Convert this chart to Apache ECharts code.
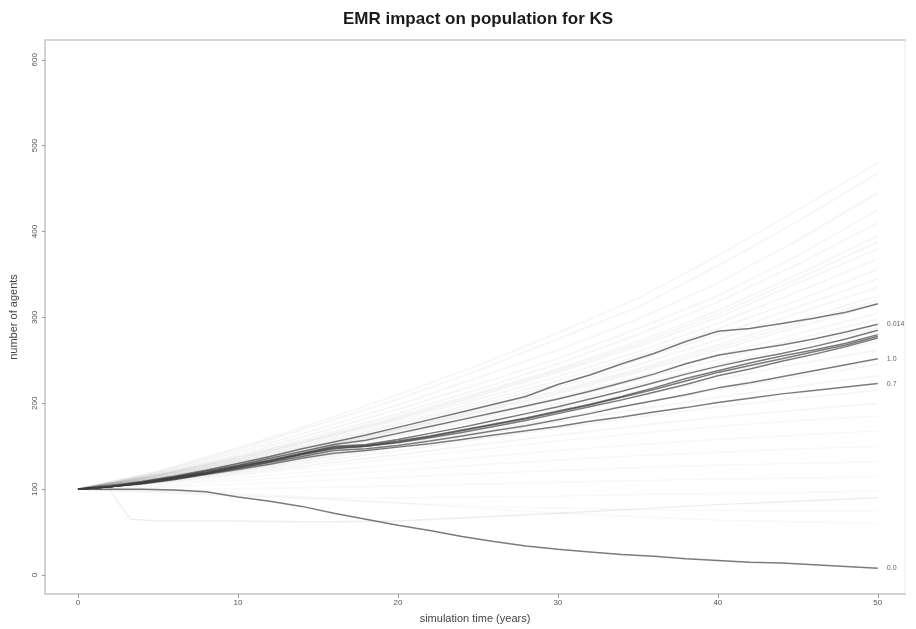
<!DOCTYPE html>
<html>
<head>
<meta charset="utf-8">
<script src="https://cdn.jsdelivr.net/npm/echarts@6/dist/echarts.min.js"></script>
<style>
html,body{margin:0;padding:0;background:#fff;}
#c{width:916px;height:629px;}
</style>
</head>
<body>
<div id="c"></div>
<script>
// ---------- data ----------
const TITLE = 'EMR impact on population for KS';
const X_NAME = 'simulation time (years)';
const Y_NAME = 'number of agents';
const X_TICKS = [0, 10, 20, 30, 40, 50];
const Y_TICKS = [0, 100, 200, 300, 400, 500, 600];

// highlighted runs, sampled every 2 years
const YEARS2 = [0,2,4,6,8,10,12,14,16,18,20,22,24,26,28,30,32,34,36,38,40,42,44,46,48,50];
const run_top   = [100,104,109,115,122,130,138,147,155,163,172,181,190,199,208,222,233,246,258,272,284,287,293,299,306,316];
const run_0014  = [100,103,108,114,121,128,136,144,152,157,165,173,181,189,197,205,214,224,234,246,256,262,268,275,283,292];
const run_b1    = [100,103,108,114,120,127,134,142,150,152,158,165,172,180,188,196,205,214,224,234,243,251,258,266,275,285];
const run_b2    = [100,103,107,113,119,126,133,141,149,151,156,162,169,176,183,191,199,208,218,229,238,247,255,262,270,280];
const run_b3    = [100,103,107,112,118,125,132,140,147,150,154,160,166,173,180,188,196,204,213,222,232,240,249,257,266,276];
const run_b4    = [100,103,107,113,119,126,133,141,148,150,155,161,168,175,182,190,198,207,216,226,236,244,252,260,268,278];
const run_10    = [100,103,107,112,118,124,131,138,145,147,151,156,162,168,174,181,188,196,203,210,218,224,231,238,245,252];
const run_07    = [100,103,106,111,117,123,129,136,142,145,149,153,158,163,168,173,179,184,190,195,201,206,211,215,219,223];
const run_00    = [100,100,100,99,97,91,86,80,72,65,58,52,45,39,34,30,27,24,22,19,17,15,14,12,10,8];
const DARK_RUNS = [run_top, run_0014, run_b1, run_b2, run_b3, run_b4, run_10, run_07, run_00];
const DARK_LABELS = ['', '0.014', '', '', '', '', '1.0', '0.7', '0.0'];

// faint background runs, sampled every 5 years
const YEARS5 = [0,5,10,15,20,25,30,35,40,45,50];
const f01 = [100,120,146,175,205,238,275,312,360,412,468];
const f02 = [100,119,143,170,198,230,262,298,340,390,445];
const f03 = [100,118,140,166,193,222,252,287,325,372,425];
const f04 = [100,117,138,162,188,216,246,280,318,362,410];
const f05 = [100,117,137,160,185,212,240,272,308,350,395];
const f06 = [100,116,135,158,182,208,236,266,300,340,380];
const f07 = [100,116,134,156,180,205,231,260,293,330,368];
const f08 = [100,115,133,154,177,201,226,255,287,320,356];
const f09 = [100,115,132,152,175,198,222,250,280,312,345];
const f10 = [100,114,131,150,172,195,219,245,274,305,335];
const f11 = [100,114,130,149,170,192,215,240,268,297,325];
const f12 = [100,113,129,147,168,189,211,236,262,289,315];
const f13 = [100,113,128,146,166,186,207,231,256,281,305];
const f14 = [100,112,127,145,164,183,204,227,251,275,298];
const f15 = [100,112,126,143,162,180,200,222,245,267,288];
const f16 = [100,111,125,141,158,176,194,214,235,254,272];
const f17 = [100,111,124,140,156,172,190,208,228,246,262];
const f18 = [100,110,122,137,152,167,183,200,216,231,245];
const f19 = [100,110,121,135,149,163,178,193,207,220,232];
const f20 = [100,109,120,132,145,158,171,184,196,206,215];
const f21 = [100,108,118,129,140,152,163,174,184,192,200];
const f22 = [100,107,116,126,136,146,156,165,173,180,185];
const f23 = [100,106,113,121,129,137,145,152,158,163,168];
const f24 = [100,104,110,116,122,128,134,139,143,147,150];
const f25 = [100,102,106,110,114,118,122,125,128,130,132];
const f26 = [100,99,100,102,104,106,108,110,112,113,115];
const f27 = [100,96,92,90,90,91,92,94,95,96,98];
const f28 = [100,97,93,88,84,80,78,76,75,75,75];
const f29 = [100,98,95,90,84,78,72,68,64,62,60];
const f30 = [100,121,148,178,210,244,282,322,372,425,480];
const f31 = [100,116,136,159,183,210,238,269,304,345,388];
const f32 = [100,113,129,148,169,190,213,238,265,293,320];
const FAINT_RUNS = [f01,f02,f03,f04,f05,f06,f07,f08,f09,f10,f11,f12,f13,f14,f15,f16,f17,f18,f19,f20,f21,f22,f23,f24,f25,f26,f27,f28,f29,f30,f31,f32];

// faint run that collapses early
const DROP_T = [0,2,2.5,3.3,5,9,15,20,30,40,50];
const DROP_V = [100,99,85,65,63,63,62,63,72,82,90];

// ---------- chart ----------
const chart = echarts.init(document.getElementById('c'), null, {renderer: 'canvas'});
const series = [];
FAINT_RUNS.forEach(arr => {
  const low = arr[arr.length - 1] < 200;
  series.push({
    type: 'line', silent: true, symbol: 'none', animation: false,
    data: YEARS5.map((t, i) => [t, arr[i]]),
    lineStyle: {color: low ? 'rgba(0,0,0,0.025)' : 'rgba(0,0,0,0.04)', width: 1.8}, z: 1
  });
});
series.push({
  type: 'line', silent: true, symbol: 'none', animation: false,
  data: DROP_T.map((t, i) => [t, DROP_V[i]]),
  lineStyle: {color: 'rgba(0,0,0,0.07)', width: 1.4}, z: 1
});
DARK_RUNS.forEach((arr, k) => {
  const lab = DARK_LABELS[k];
  series.push({
    type: 'line', silent: true, symbol: 'none', animation: false,
    data: YEARS2.map((t, i) => [t, arr[i]]),
    lineStyle: {color: 'rgba(60,60,60,0.68)', width: 1.5}, z: 3,
    endLabel: {show: !!lab, formatter: lab, fontSize: 7, color: '#666',
               fontFamily: 'Liberation Sans, Arial, sans-serif', distance: 9}
  });
});

const axisFont = 'Liberation Sans, Arial, sans-serif';
chart.setOption({
  animation: false,
  backgroundColor: '#fff',
  title: {
    text: TITLE, left: 338, top: 6,
    textStyle: {fontSize: 17, fontWeight: 'bold', color: '#1a1a1a', fontFamily: axisFont}
  },
  grid: {left: 45, right: 11, top: 40, bottom: 35, show: true, borderColor: '#ececec', borderWidth: 1},
  xAxis: [{
    type: 'value', min: -2.06, max: 51.7,
    name: X_NAME, nameLocation: 'middle', nameGap: 19,
    nameTextStyle: {fontSize: 11, color: '#444', fontFamily: axisFont},
    axisLine: {show: true, onZero: false, lineStyle: {color: '#d2d2d2', width: 2}},
    axisTick: {show: true, customValues: X_TICKS, length: 4, lineStyle: {color: '#999'}},
    axisLabel: {customValues: X_TICKS, fontSize: 8, color: '#555', margin: 5, fontFamily: axisFont},
    splitLine: {show: false}
  }, {
    type: 'value', position: 'top', min: -2.06, max: 51.7,
    axisLine: {show: true, onZero: false, lineStyle: {color: '#d6d6d6', width: 2}},
    axisTick: {show: false}, axisLabel: {show: false}, splitLine: {show: false}
  }],
  yAxis: {
    type: 'value', min: -22, max: 623,
    name: Y_NAME, nameLocation: 'middle', nameGap: 26,
    nameTextStyle: {fontSize: 11, color: '#444', fontFamily: axisFont},
    axisLine: {show: true, onZero: false, lineStyle: {color: '#d2d2d2', width: 2}},
    axisTick: {show: true, customValues: Y_TICKS, length: 3, lineStyle: {color: '#999'}},
    axisLabel: {customValues: Y_TICKS, fontSize: 8, color: '#555', rotate: 90, margin: 6, fontFamily: axisFont},
    splitLine: {show: false}
  },
  series: series
});
</script>
</body>
</html>
